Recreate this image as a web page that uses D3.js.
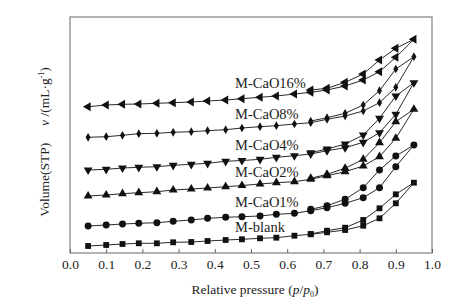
<!DOCTYPE html>
<html>
<head>
<meta charset="utf-8">
<script src="https://cdn.jsdelivr.net/npm/d3@7"></script>
<style>
  body { margin: 0; background: #fff; }
  text { font-family: "Liberation Serif", "DejaVu Serif", serif !important; fill: #222; }
</style>
</head>
<body>
<svg id="chart" width="474" height="302" font-family="Liberation Serif, serif"></svg>
<script>
// relative pressure points, adsorption branch then desorption branch
adsX = [0.05, 0.1, 0.145, 0.19, 0.24, 0.285, 0.335, 0.38, 0.43, 0.475, 0.525, 0.57, 0.62, 0.665, 0.71, 0.76, 0.81, 0.855, 0.9, 0.95]
desX = [0.95, 0.9, 0.855, 0.81, 0.76, 0.71, 0.665]

seriesNames = ["M-blank", "M-CaO1%", "M-CaO2%", "M-CaO4%", "M-CaO8%", "M-CaO16%"]

// volume (arbitrary, curves offset vertically)
blankAds = [7, 8, 9, 9.7, 9.7, 10.7, 11, 12, 13, 13.7, 14.7, 15.3, 17.3, 18.7, 20.7, 23, 27.3, 34.7, 49.7, 70.3]
blankDes = [70.3, 58.7, 44.7, 33, 25.3, 22.3, 19]
cao1Ads = [27, 28, 29, 29.7, 30.3, 31.7, 33, 34.7, 35.7, 36.3, 37, 38.7, 39.7, 42.3, 45.3, 49.7, 55.3, 65.3, 86.3, 108]
cao1Des = [108, 97, 83, 65.3, 53.7, 47.3, 43.7]
cao2Ads = [57, 58, 59.3, 60.3, 61.3, 63, 64, 65, 66.3, 67.5, 69, 70.3, 71.3, 73.7, 77.3, 81.3, 87, 96.3, 114.7, 143.7]
cao2Des = [143.7, 131.3, 110.3, 93.7, 84.7, 78.7, 74.7]
cao4Ads = [83, 83.7, 85, 85.7, 86.3, 87.7, 88.7, 89.7, 91.7, 92.5, 93.7, 95.7, 97.3, 99, 102.3, 105.3, 110.7, 120.3, 138.7, 170.3]
cao4Des = [170.3, 157, 134.7, 118, 109, 104, 100.3]
cao8Ads = [115.7, 116.3, 117.7, 119.3, 119.7, 120.7, 121.3, 122.3, 123.3, 125, 126.3, 127.3, 129, 130.3, 133.7, 137, 142, 150.3, 165.7, 196.3]
cao8Des = [196.3, 184, 162.3, 148, 139.7, 135.3, 132]
cao16Ads = [146.3, 148, 148.7, 149, 149.7, 150.3, 151, 152, 153, 154.3, 155.7, 157, 159, 160.7, 163, 167, 173, 181.3, 195.7, 213.7]
cao16Des = [213.7, 204.7, 193, 179, 170.7, 164.7, 163]

xTicks = [0, 0.1, 0.2, 0.3, 0.4, 0.5, 0.6, 0.7, 0.8, 0.9, 1.0]

svg = d3.select("#chart")
margin = {top: 17, right: 42, bottom: 49, left: 70}
width = +svg.attr("width")
height = +svg.attr("height")

x = d3.scaleLinear().domain([0, 1]).range([margin.left, width - margin.right])
y = d3.scaleLinear().domain([0, 236]).range([height - margin.bottom, margin.top])

series = [
  {name: seriesNames[0], ads: blankAds, des: blankDes, sym: d3.symbolSquare, size: 34, rot: 0, lab: 21.5},
  {name: seriesNames[1], ads: cao1Ads, des: cao1Des, sym: d3.symbolCircle, size: 38, rot: 0, lab: 46},
  {name: seriesNames[2], ads: cao2Ads, des: cao2Des, sym: d3.symbolTriangle, size: 34, rot: 0, lab: 76},
  {name: seriesNames[3], ads: cao4Ads, des: cao4Des, sym: d3.symbolTriangle, size: 34, rot: 180, lab: 103},
  {name: seriesNames[4], ads: cao8Ads, des: cao8Des, sym: d3.symbolDiamond, size: 22, rot: 0, lab: 134},
  {name: seriesNames[5], ads: cao16Ads, des: cao16Des, sym: d3.symbolTriangle, size: 34, rot: -90, lab: 165}
]

line = d3.line().x(d => x(d[0])).y(d => y(d[1]))

// frame
svg.append("rect")
  .attr("x", x(0)).attr("y", y(236))
  .attr("width", x(1) - x(0)).attr("height", y(0) - y(236))
  .attr("fill", "none").attr("stroke", "#8a8a8a").attr("stroke-width", 1.3)

series.forEach(s => {
  ads = adsX.map((v, i) => [v, s.ads[i]])
  des = desX.map((v, i) => [v, s.des[i]])
  g = svg.append("g")
  g.append("path").datum(ads).attr("d", line)
    .attr("fill", "none").attr("stroke", "#111").attr("stroke-width", 0.9)
  g.append("path").datum(des).attr("d", line)
    .attr("fill", "none").attr("stroke", "#111").attr("stroke-width", 0.9)
  sym = d3.symbol().type(s.sym).size(s.size)
  g.selectAll("path.pt")
    .data(ads.concat(des.slice(1)))
    .enter().append("path")
    .attr("class", "pt")
    .attr("d", sym)
    .attr("transform", d => `translate(${x(d[0])},${y(d[1])}) rotate(${s.rot})`)
    .attr("fill", "#111")
  svg.append("text")
    .attr("x", x(0.456)).attr("y", y(s.lab))
    .attr("font-size", 14.5)
    .text(s.name)
})

// x axis, ticks pointing inward
xAxis = svg.append("g")
  .attr("transform", `translate(0, ${y(0)})`)
  .call(d3.axisBottom(x).tickValues(xTicks).tickFormat(d3.format(".1f"))
    .tickSizeInner(-4).tickSizeOuter(0).tickPadding(6))
xAxis.attr("font-family", null)
xAxis.select(".domain").remove()
xAxis.selectAll("line").attr("stroke", "#666")
xAxis.selectAll("text").attr("font-size", 13.5).attr("fill", "#222")

svg.append("text")
  .attr("x", (x(0) + x(1)) / 2 + 4).attr("y", 294)
  .attr("text-anchor", "middle").attr("font-size", 13.5)
  .html('Relative pressure  (<tspan font-style="italic">p</tspan>/<tspan font-style="italic">p</tspan><tspan font-size="8" dy="3">0</tspan><tspan dy="-3">)</tspan>')

svg.append("text")
  .attr("transform", "translate(49, 142) rotate(-90)")
  .attr("text-anchor", "middle").attr("font-size", 13.5)
  .html('Volume(STP)\u2003 <tspan font-style="italic">v</tspan> /(mL·g<tspan font-size="8" dy="-5">-1</tspan><tspan dy="5">)</tspan>')
</script>
</body>
</html>
